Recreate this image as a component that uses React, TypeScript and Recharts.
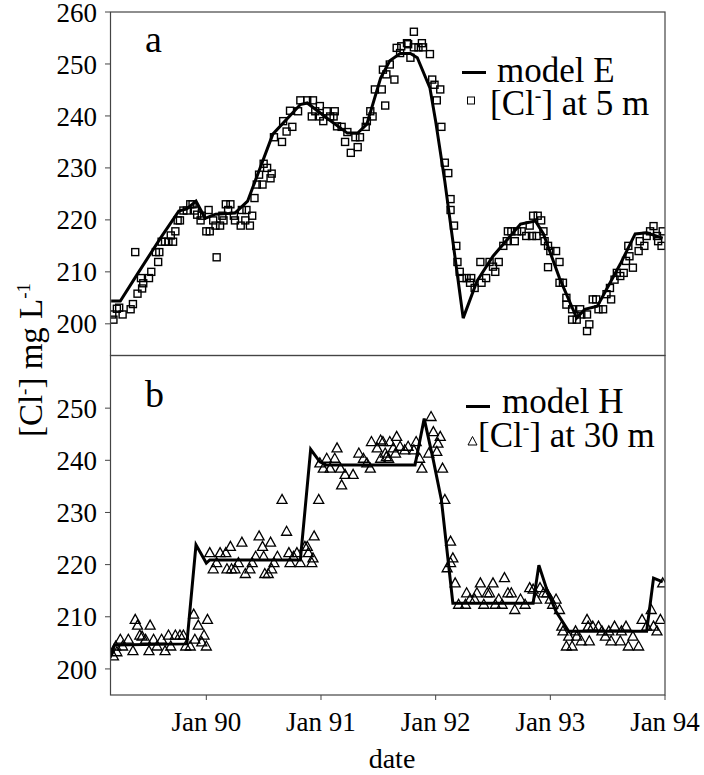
import React from "react";
import { ComposedChart, Line, Scatter, XAxis, YAxis } from "recharts";

// model E curve and [Cl-] at 5 m (panel a)
const modelEYears = [
  1989.17, 1989.25, 1989.4, 1989.6, 1989.76, 1989.83, 1989.91, 1989.99, 1990.08, 1990.25,
  1990.36, 1990.58, 1990.82, 1990.88, 1991.05, 1991.23, 1991.32, 1991.4, 1991.52, 1991.6,
  1991.69, 1991.78, 1991.84, 1991.95, 1992.0, 1992.08, 1992.24, 1992.36, 1992.5, 1992.74,
  1992.87, 1992.94, 1993.08, 1993.23, 1993.3, 1993.41, 1993.61, 1993.74, 1993.84, 1993.98,
];
const modelEValues = [
  204.4, 204.4, 209.6, 216.5, 221.7, 222.1, 223.6, 220.3, 221.1, 221.3,
  223.6, 236.5, 242.2, 242.5, 239.6, 236.7, 236.7, 238.4, 247.3, 250.6,
  252.0, 252.0, 251.2, 245.4, 239.0, 227.4, 201.1, 208.2, 213.0, 219.2,
  219.8, 217.3, 208.8, 201.1, 202.8, 203.4, 211.5, 217.3, 217.5, 216.5,
];

const obs5mYears = [
  1989.18, 1989.19, 1989.22, 1989.24, 1989.27, 1989.34, 1989.36, 1989.38, 1989.4, 1989.43,
  1989.44, 1989.45, 1989.5, 1989.52, 1989.58, 1989.56, 1989.59, 1989.61, 1989.64, 1989.67,
  1989.69, 1989.71, 1989.73, 1989.75, 1989.77, 1989.8, 1989.83, 1989.86, 1989.88, 1989.9,
  1989.92, 1989.95, 1989.96, 1990.0, 1990.03, 1990.02, 1990.06, 1990.08, 1990.09, 1990.12,
  1990.14, 1990.15, 1990.17, 1990.21, 1990.19, 1990.24, 1990.25, 1990.3, 1990.31, 1990.34,
  1990.35, 1990.38, 1990.4, 1990.42, 1990.44, 1990.49, 1990.46, 1990.5, 1990.53, 1990.56,
  1990.57, 1990.59, 1990.66, 1990.67, 1990.7, 1990.75, 1990.73, 1990.8, 1990.82, 1990.88,
  1990.93, 1990.92, 1990.95, 1990.99, 1990.99, 1991.02, 1991.05, 1991.08, 1991.12, 1991.11,
  1991.14, 1991.18, 1991.21, 1991.23, 1991.26, 1991.3, 1991.32, 1991.34, 1991.39, 1991.4,
  1991.43, 1991.45, 1991.47, 1991.53, 1991.56, 1991.54, 1991.57, 1991.6, 1991.64, 1991.66,
  1991.69, 1991.7, 1991.75, 1991.81, 1991.76, 1991.81, 1991.85, 1991.88, 1991.89, 1991.95,
  1991.78, 1991.97, 1991.99, 1992.04, 1992.01, 1992.05, 1992.08, 1992.11, 1992.13, 1992.13,
  1992.16, 1992.18, 1992.19, 1992.21, 1992.23, 1992.27, 1992.31, 1992.3, 1992.34, 1992.39,
  1992.4, 1992.44, 1992.47, 1992.5, 1992.52, 1992.55, 1992.59, 1992.62, 1992.63, 1992.66,
  1992.69, 1992.71, 1992.75, 1992.79, 1992.84, 1992.88, 1992.85, 1992.89, 1992.82, 1992.92,
  1992.94, 1992.95, 1992.98, 1993.0, 1993.05, 1993.08, 1992.98, 1993.08, 1993.11, 1993.14,
  1993.14, 1993.19, 1993.19, 1993.23, 1993.26, 1993.27, 1993.32, 1993.34, 1993.32, 1993.37,
  1993.4, 1993.42, 1993.46, 1993.49, 1993.53, 1993.52, 1993.56, 1993.58, 1993.61, 1993.64,
  1993.66, 1993.69, 1993.72, 1993.68, 1993.77, 1993.78, 1993.82, 1993.84, 1993.87, 1993.9,
  1993.93, 1993.94, 1993.97, 1993.98,
];
const obs5mValues = [
  201.8, 200.8, 202.9, 203.1, 201.8, 202.8, 203.8, 213.8, 205.8, 208.8,
  206.8, 207.8, 208.8, 210.0, 211.9, 213.8, 213.8, 215.8, 215.8, 215.8,
  217.0, 215.8, 217.8, 219.9, 219.9, 221.8, 221.8, 223.0, 223.0, 221.8,
  221.0, 219.9, 220.8, 217.8, 217.8, 221.9, 219.9, 218.9, 212.8, 218.9,
  220.8, 219.9, 223.0, 223.0, 221.9, 220.8, 219.9, 218.9, 221.9, 219.9,
  221.9, 218.9, 220.8, 224.2, 226.8, 226.8, 228.7, 230.8, 230.0, 228.0,
  228.9, 235.9, 235.0, 239.0, 237.0, 237.9, 241.0, 240.9, 243.0, 243.0,
  243.0, 239.9, 240.9, 241.9, 239.9, 239.0, 240.9, 239.9, 240.9, 239.9,
  238.0, 237.9, 235.0, 236.9, 232.9, 235.9, 234.0, 235.9, 237.9, 239.0,
  240.9, 239.9, 245.1, 245.1, 242.0, 248.9, 248.0, 249.9, 247.0, 253.1,
  252.1, 253.4, 254.0, 256.2, 253.8, 253.2, 253.2, 254.0, 253.2, 251.9,
  251.2, 247.0, 246.0, 245.1, 243.0, 237.9, 231.0, 229.0, 224.0, 221.9,
  218.9, 215.0, 211.9, 210.0, 208.8, 208.8, 208.8, 207.9, 206.9, 211.9,
  207.9, 208.8, 211.9, 211.0, 210.0, 211.9, 215.0, 215.9, 217.8, 217.8,
  215.9, 217.8, 217.8, 216.9, 216.9, 216.9, 220.8, 220.8, 218.9, 219.9,
  217.8, 215.9, 215.0, 214.0, 214.0, 211.9, 210.9, 207.9, 207.9, 205.0,
  203.7, 202.8, 200.8, 200.8, 202.8, 201.8, 201.8, 199.9, 198.6, 204.7,
  204.7, 202.8, 202.8, 205.7, 204.7, 206.9, 208.5, 209.8, 209.2, 209.8,
  212.1, 213.0, 210.8, 215.0, 214.0, 215.9, 215.0, 216.9, 217.8, 218.8,
  216.9, 215.9, 215.0, 217.8,
];

// model H curve and [Cl-] at 30 m (panel b)
const modelHYears = [
  1989.16, 1989.2, 1989.83, 1989.91, 1990.0, 1990.03, 1990.82, 1990.91, 1990.99, 1991.05,
  1991.82, 1991.9, 1991.98, 1992.05, 1992.15, 1992.85, 1992.9, 1992.97, 1993.05, 1993.16,
  1993.84, 1993.9, 1993.98,
];
const modelHValues = [
  202.1, 204.6, 204.8, 223.8, 220.3, 220.9, 220.9, 242.1, 239.7, 239.1,
  239.1, 248.0, 240.0, 232.4, 212.6, 212.6, 219.9, 215.2, 211.0, 207.2,
  207.2, 217.4, 216.7,
];

const obs30mYears = [
  1989.19, 1989.22, 1989.21, 1989.25, 1989.27, 1989.32, 1989.36, 1989.38, 1989.4, 1989.42,
  1989.44, 1989.47, 1989.5, 1989.51, 1989.54, 1989.57, 1989.61, 1989.64, 1989.67, 1989.69,
  1989.73, 1989.77, 1989.8, 1989.82, 1989.86, 1989.89, 1989.9, 1989.93, 1989.96, 1989.98,
  1990.0, 1990.01, 1990.03, 1990.06, 1990.09, 1990.12, 1990.17, 1990.18, 1990.21, 1990.22,
  1990.25, 1990.28, 1990.31, 1990.34, 1990.38, 1990.4, 1990.43, 1990.46, 1990.49, 1990.5,
  1990.51, 1990.54, 1990.56, 1990.57, 1990.59, 1990.62, 1990.66, 1990.7, 1990.72, 1990.73,
  1990.76, 1990.79, 1990.82, 1990.86, 1990.88, 1990.89, 1990.92, 1990.93, 1990.94, 1990.98,
  1990.99, 1991.02, 1991.05, 1991.08, 1991.12, 1991.14, 1991.17, 1991.21, 1991.18, 1991.28,
  1991.33, 1991.37, 1991.4, 1991.43, 1991.44, 1991.49, 1991.52, 1991.54, 1991.56, 1991.59,
  1991.6, 1991.63, 1991.65, 1991.66, 1991.52, 1991.57, 1991.69, 1991.73, 1991.76, 1991.81,
  1991.83, 1991.86, 1991.88, 1991.94, 1991.96, 1991.98, 1992.01, 1992.02, 1992.04, 1992.06,
  1992.08, 1992.13, 1992.15, 1992.13, 1992.1, 1992.17, 1992.2, 1992.26, 1992.27, 1992.3,
  1992.34, 1992.36, 1992.39, 1992.42, 1992.45, 1992.47, 1992.5, 1992.52, 1992.55, 1992.58,
  1992.6, 1992.63, 1992.66, 1992.69, 1992.74, 1992.78, 1992.82, 1992.85, 1992.88, 1992.91,
  1992.94, 1992.97, 1993.0, 1993.02, 1993.05, 1993.08, 1993.1, 1993.11, 1993.14, 1993.16,
  1993.19, 1993.22, 1993.23, 1993.27, 1993.32, 1993.33, 1993.34, 1993.37, 1993.42, 1993.45,
  1993.48, 1993.51, 1993.53, 1993.56, 1993.61, 1993.62, 1993.66, 1993.68, 1993.72, 1993.77,
  1993.8, 1993.84, 1993.88, 1993.9, 1993.93, 1993.96, 1993.98,
];
const obs30mValues = [
  202.4, 203.2, 204.3, 205.6, 204.3, 205.6, 203.4, 209.4, 208.3, 206.4,
  206.2, 205.6, 203.4, 208.3, 205.6, 204.3, 205.6, 203.4, 206.4, 204.3,
  206.4, 206.4, 206.4, 204.3, 204.3, 210.4, 205.6, 208.3, 205.1, 206.4,
  204.3, 209.4, 222.2, 219.1, 220.3, 222.2, 222.2, 219.1, 223.4, 219.1,
  219.1, 220.3, 224.2, 218.2, 219.1, 220.3, 221.5, 225.4, 223.4, 221.5,
  218.2, 218.2, 224.2, 219.1, 220.3, 221.5, 232.4, 226.3, 222.2, 220.3,
  221.5, 222.2, 220.3, 223.4, 223.4, 222.2, 220.3, 221.2, 225.4, 232.4,
  239.4, 238.4, 240.3, 238.4, 240.3, 242.3, 238.4, 237.2, 235.2, 237.2,
  241.3, 240.3, 239.4, 238.4, 243.5, 242.3, 240.3, 243.5, 241.3, 240.3,
  243.5, 242.3, 241.3, 244.5, 243.8, 240.6, 242.6, 241.9, 242.6, 241.9,
  243.5, 240.3, 238.4, 241.3, 248.3, 245.4, 241.6, 243.2, 244.5, 238.4,
  232.4, 224.4, 221.2, 220.3, 219.3, 216.4, 212.3, 212.3, 214.5, 213.3,
  213.3, 214.5, 216.4, 212.3, 214.5, 214.5, 216.4, 212.3, 213.3, 212.3,
  217.4, 214.5, 214.5, 211.3, 213.3, 212.3, 215.5, 215.2, 213.3, 215.5,
  214.5, 214.5, 213.3, 212.3, 213.3, 211.3, 208.1, 207.2, 204.3, 206.2,
  204.3, 207.2, 206.2, 205.3, 209.4, 208.1, 205.3, 208.1, 208.1, 207.2,
  206.2, 207.2, 205.3, 208.1, 205.3, 207.2, 208.1, 204.3, 206.2, 204.3,
  209.4, 208.1, 211.3, 208.1, 207.2, 209.4, 216.4,
];

const yearTicks = [1990, 1991, 1992, 1993, 1994];
const panelATicks = [200, 210, 220, 230, 240, 250, 260];
const panelBTicks = [200, 210, 220, 230, 240, 250];

const FONT = "Liberation Serif, Tinos, DejaVu Serif, Noto Serif, serif";
const X_DOMAIN: [number, number] = [1989.16, 1994];

const zip = (ts: number[], vs: number[]) => ts.map((t, i) => ({ t, v: vs[i] }));

const Square = (p: any) => (
  <rect x={p.cx - 3.5} y={p.cy - 3.5} width={7} height={7} fill="none" stroke="#000" strokeWidth={1.4} />
);
const Triangle = (p: any) => (
  <path
    d={`M${p.cx},${p.cy - 5.5}L${p.cx - 5},${p.cy + 3.5}L${p.cx + 5},${p.cy + 3.5}Z`}
    fill="none"
    stroke="#000"
    strokeWidth={1.3}
  />
);

const tickStyle = { fontSize: 27, fill: "#000", fontFamily: FONT };

function Panel({
  line,
  points,
  shape,
  yDomain,
  yTicks,
  showX,
  height,
  bottom,
}: {
  line: { t: number; v: number }[];
  points: { t: number; v: number }[];
  shape: any;
  yDomain: [number, number];
  yTicks: number[];
  showX: boolean;
  height: number;
  bottom: number;
}) {
  return (
    <ComposedChart width={704} height={height} margin={{ top: 11, right: 39, bottom, left: 50 }}>
      <XAxis
        dataKey="t"
        type="number"
        domain={X_DOMAIN}
        allowDataOverflow
        ticks={yearTicks}
        tickFormatter={(t) => `Jan ${String(t).slice(2)}`}
        hide={!showX}
        height={80}
        axisLine={false}
        tickLine={{ stroke: "#444" }}
        tickSize={5}
        tickMargin={12}
        tick={tickStyle}
        interval={0}
      />
      <YAxis
        type="number"
        domain={yDomain}
        allowDataOverflow
        ticks={yTicks}
        width={60}
        axisLine={false}
        tickLine={{ stroke: "#444" }}
        tickSize={5}
        tickMargin={8}
        tick={tickStyle}
        interval={0}
      />
      <Scatter data={points} dataKey="v" shape={shape} isAnimationActive={false} />
      <Line
        data={line}
        dataKey="v"
        type="linear"
        stroke="#000"
        strokeWidth={3}
        dot={false}
        activeDot={false}
        isAnimationActive={false}
      />
    </ComposedChart>
  );
}

export default function App() {
  return (
    <div
      style={{
        position: "absolute",
        left: 0,
        top: 0,
        width: 704,
        height: 775,
        background: "#fff",
        fontFamily: FONT,
      }}
    >
      <div style={{ position: "absolute", left: 0, top: 1 }}>
        <Panel
          line={zip(modelEYears, modelEValues)}
          points={zip(obs5mYears, obs5mValues)}
          shape={Square}
          yDomain={[194, 260]}
          yTicks={panelATicks}
          showX={false}
          height={359}
          bottom={5}
        />
      </div>
      <div style={{ position: "absolute", left: 0, top: 345 }}>
        <Panel
          line={zip(modelHYears, modelHValues)}
          points={zip(obs30mYears, obs30mValues)}
          shape={Triangle}
          yDomain={[195, 260]}
          yTicks={panelBTicks}
          showX={true}
          height={430}
          bottom={0}
        />
      </div>
      <svg
        width={704}
        height={775}
        style={{ position: "absolute", left: 0, top: 0, pointerEvents: "none" }}
        fontFamily={FONT}
      >
        <rect x={110.5} y={12} width={554.5} height={343.5} fill="none" stroke="#444" strokeWidth={1.2} />
        <rect x={110.5} y={355.5} width={554.5} height={339.5} fill="none" stroke="#444" strokeWidth={1.2} />

        <text x={145} y={52} fontSize={38}>a</text>
        <text x={145} y={407} fontSize={38}>b</text>

        <line x1={462} x2={486} y1={72.5} y2={72.5} stroke="#000" strokeWidth={3} />
        <text x={497} y={82} fontSize={35}>model E</text>
        <rect x={467.5} y={97} width={7} height={7} fill="none" stroke="#000" strokeWidth={1} />
        <text x={490} y={115} fontSize={35}>
          [Cl<tspan dy={-13} fontSize={20}>-</tspan>
          <tspan dy={13}>] at 5 m</tspan>
        </text>

        <line x1={466} x2={490} y1={406.5} y2={406.5} stroke="#000" strokeWidth={3} />
        <text x={502} y={413} fontSize={35}>model H</text>
        <path d="M472.5,436.5L468,445L477,445Z" fill="none" stroke="#000" strokeWidth={1} />
        <text x={478} y={447} fontSize={35}>
          [Cl<tspan dy={-13} fontSize={20}>-</tspan>
          <tspan dy={13}>] at 30 m</tspan>
        </text>

        <text x={392} y={768} fontSize={28} textAnchor="middle">date</text>

        <text x={42} y={360} fontSize={33} textAnchor="middle" transform="rotate(-90, 42, 360)">
          [Cl<tspan dy={-12} fontSize={19}>-</tspan>
          <tspan dy={12}>] mg L</tspan>
          <tspan dy={-12} fontSize={19}>-1</tspan>
        </text>
      </svg>
    </div>
  );
}
